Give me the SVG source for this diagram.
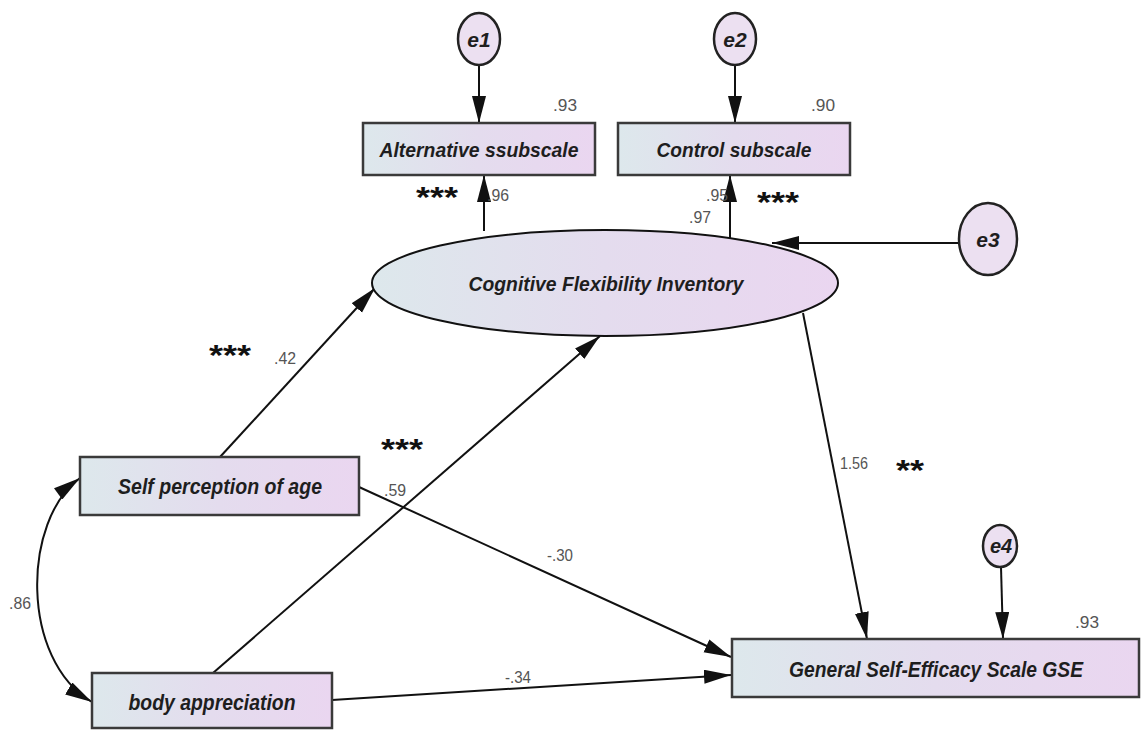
<svg xmlns="http://www.w3.org/2000/svg" width="1141" height="730" viewBox="0 0 1141 730">
<style>
.box{stroke:#3a3a3a;stroke-width:2.5;fill:url(#g)}
.lat{stroke:#111;stroke-width:2;fill:url(#g)}
.err{stroke:#222;stroke-width:2.5;fill:#ece0f1}
.lbl{font-family:"Liberation Sans",Arial,sans-serif;font-weight:bold;font-style:italic;fill:#1e1e1e;text-anchor:middle}
.num{font-family:"Liberation Sans",Arial,sans-serif;font-size:17px;fill:#555;text-anchor:middle}
.star{font-family:"Liberation Sans",Arial,sans-serif;font-weight:bold;font-size:30px;fill:#111;text-anchor:middle}
.ln{stroke:#111;stroke-width:2;fill:none}
</style>
<defs>
<linearGradient id="g" x1="0" y1="0" x2="1" y2="0">
<stop offset="0" stop-color="#dde8ec"/>
<stop offset="0.5" stop-color="#e4dcee"/>
<stop offset="1" stop-color="#ead6f0"/>
</linearGradient>
<marker id="ah" markerUnits="userSpaceOnUse" markerWidth="30" markerHeight="16" refX="27" refY="7" orient="auto">
<path d="M0,0 L27,7 L0,14 z" fill="#111"/>
</marker>
<marker id="ahs" markerUnits="userSpaceOnUse" markerWidth="30" markerHeight="16" refX="0" refY="7" orient="auto">
<path d="M27,0 L0,7 L27,14 z" fill="#111"/>
</marker>
</defs>
<rect width="1141" height="730" fill="#fff"/>
<g id="connectors">
<path class="ln" d="M479,65 L479,123" marker-end="url(#ah)"/>
<path class="ln" d="M735,65 L735,123" marker-end="url(#ah)"/>
<path class="ln" d="M484,231 L484,175" marker-end="url(#ah)"/>
<path class="ln" d="M730,239 L730,175" marker-end="url(#ah)"/>
<path class="ln" d="M959,243 L772,243" marker-end="url(#ah)"/>
<path class="ln" d="M220,457 L375,288" marker-end="url(#ah)"/>
<path class="ln" d="M213,673 L600,336" marker-end="url(#ah)"/>
<path class="ln" d="M803,313 L867,639" marker-end="url(#ah)"/>
<path class="ln" d="M359,487 L731,657" marker-end="url(#ah)"/>
<path class="ln" d="M332,700 L731,675" marker-end="url(#ah)"/>
<path class="ln" d="M1001,567 L1003,639" marker-end="url(#ah)"/>
<path class="ln" d="M80,478 C22,520 20,660 92,702" marker-start="url(#ahs)" marker-end="url(#ah)"/>
</g>
<g id="e1"><ellipse class="err" cx="479" cy="39" rx="21" ry="26"/><text class="lbl" x="479" y="47" font-size="21">e1</text></g>
<g id="e2"><ellipse class="err" cx="735" cy="39" rx="21" ry="26"/><text class="lbl" x="735" y="47" font-size="21">e2</text></g>
<g id="e3"><ellipse class="err" cx="988" cy="239" rx="29" ry="36"/><text class="lbl" x="988" y="247" font-size="21">e3</text></g>
<g id="e4"><ellipse class="err" cx="1000" cy="546" rx="17" ry="21"/><text class="lbl" x="1001" y="553" font-size="20">e4</text></g>
<g id="alt"><rect class="box" x="363" y="123" width="232" height="52"/><text class="lbl" x="479" y="157" font-size="21" textLength="199" lengthAdjust="spacingAndGlyphs">Alternative ssubscale</text></g>
<g id="ctrl"><rect class="box" x="618" y="123" width="232" height="52"/><text class="lbl" x="734" y="157" font-size="21" textLength="155" lengthAdjust="spacingAndGlyphs">Control subscale</text></g>
<g id="cfi"><ellipse class="lat" cx="605" cy="283" rx="233" ry="53"/><text class="lbl" x="606" y="291" font-size="21" textLength="275" lengthAdjust="spacingAndGlyphs">Cognitive Flexibility Inventory</text></g>
<g id="self"><rect class="box" x="80" y="457" width="279" height="58"/><text class="lbl" x="220" y="494" font-size="22" textLength="204" lengthAdjust="spacingAndGlyphs">Self perception of age</text></g>
<g id="body"><rect class="box" x="92" y="673" width="240" height="55"/><text class="lbl" x="212" y="710" font-size="22" textLength="167" lengthAdjust="spacingAndGlyphs">body appreciation</text></g>
<g id="gse"><rect class="box" x="732" y="639" width="407" height="58"/><text class="lbl" x="936" y="677" font-size="22" textLength="294" lengthAdjust="spacingAndGlyphs">General Self-Efficacy Scale GSE</text></g>
<g id="labels">
<text class="num" x="565" y="111" textLength="24" lengthAdjust="spacingAndGlyphs">.93</text>
<text class="num" x="823" y="111" textLength="24" lengthAdjust="spacingAndGlyphs">.90</text>
<text class="num" x="498" y="201" textLength="22" lengthAdjust="spacingAndGlyphs">.96</text>
<text class="num" x="717" y="201" textLength="22" lengthAdjust="spacingAndGlyphs">.95</text>
<text class="num" x="700" y="223" textLength="22" lengthAdjust="spacingAndGlyphs">.97</text>
<text class="num" x="285" y="364" textLength="22" lengthAdjust="spacingAndGlyphs">.42</text>
<text class="num" x="395" y="496" textLength="22" lengthAdjust="spacingAndGlyphs">.59</text>
<text class="num" x="560" y="561" textLength="26" lengthAdjust="spacingAndGlyphs">-.30</text>
<text class="num" x="518" y="683" textLength="26" lengthAdjust="spacingAndGlyphs">-.34</text>
<text class="num" x="854" y="469" textLength="28" lengthAdjust="spacingAndGlyphs">1.56</text>
<text class="num" x="1087" y="628" textLength="24" lengthAdjust="spacingAndGlyphs">.93</text>
<text class="num" x="20" y="609" textLength="22" lengthAdjust="spacingAndGlyphs">.86</text>
<text class="star" x="437" y="207" textLength="42" lengthAdjust="spacingAndGlyphs">***</text>
<text class="star" x="778" y="212" textLength="42" lengthAdjust="spacingAndGlyphs">***</text>
<text class="star" x="230" y="365" textLength="42" lengthAdjust="spacingAndGlyphs">***</text>
<text class="star" x="402" y="459" textLength="42" lengthAdjust="spacingAndGlyphs">***</text>
<text class="star" x="910" y="480" textLength="28" lengthAdjust="spacingAndGlyphs">**</text>
</g>
</svg>
